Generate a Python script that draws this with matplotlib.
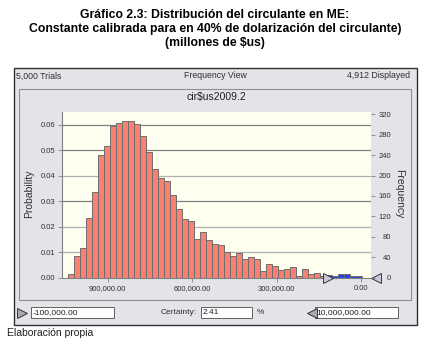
import numpy as np
import matplotlib
matplotlib.use('Agg')
import matplotlib.pyplot as plt
from matplotlib.patches import Rectangle
from matplotlib.lines import Line2D

plt.rcParams['font.family'] = ['Liberation Sans', 'DejaVu Sans']

# data
trials = 5000
displayed = 4912
bin_high = 1040000
bin_low = -4000
counts = [8, 43, 59, 116, 167, 241, 258, 298, 303, 306,
          306, 301, 278, 247, 213, 195, 189, 161, 135, 114,
          112, 75, 90, 73, 66, 64, 51, 43, 49, 36,
          41, 36, 14, 26, 23, 16, 18, 20, 4, 18,
          7, 10, 4, 6, 4, 8, 8, 4, 3]
grab_low = 117000
grab_high = -52000
x_ticks = [900000, 600000, 300000, 0]
prob_ticks = [0.00, 0.01, 0.02, 0.03, 0.04, 0.05, 0.06]
freq_ticks = [0, 40, 80, 120, 160, 200, 240, 280, 320]
title_lines = ['Gráfico 2.3: Distribución del circulante en ME:',
               'Constante calibrada para en 40% de dolarización del circulante)',
               '(millones de $us)']
chart_name = 'cir$us2009.2'
low_text = '-100,000.00'
certainty_text = '2.41'
high_text = '10,000,000.00'
source = 'Elaboración propia'

W, H = 433, 364
fig = plt.figure(figsize=(W / 100, H / 100), dpi=100)
fig.patch.set_facecolor('white')

def fx(x):
    return x / W

def fy(y):
    return 1 - y / H

def box(x0, y0, x1, y1, fc, ec, lw=0.8, z=-10):
    fig.add_artist(Rectangle((fx(x0), fy(y1)), fx(x1) - fx(x0), fy(y0) - fy(y1),
                             transform=fig.transFigure, facecolor=fc, edgecolor=ec,
                             linewidth=lw, zorder=z))

def tri(x, y, m, size=7):
    fig.add_artist(Line2D([fx(x)], [fy(y)], marker=m, markersize=size, markerfacecolor='#a8a8b0',
                          markeredgecolor='#202020', markeredgewidth=0.6, transform=fig.transFigure))

# titles
for i, t in enumerate(title_lines):
    fig.text(fx(215), fy(15 + 14 * i), t, ha='center', va='center', fontsize=8.8, fontweight='bold')

# window frame
box(13.5, 67.5, 417, 325, '#e4e4e8', '#303030', 1.0)
box(18.5, 88.5, 411, 300, 'none', '#909090', 0.8)
fig.text(fx(16), fy(76), '{:,} Trials'.format(trials), ha='left', va='center', fontsize=6.3, color='#303030')
fig.text(fx(215), fy(76), 'Frequency View', ha='center', va='center', fontsize=6.3, color='#303030')
fig.text(fx(410), fy(76), '{:,} Displayed'.format(displayed), ha='right', va='center', fontsize=6.3, color='#303030')
fig.text(fx(216), fy(97), chart_name, ha='center', va='center', fontsize=7.5, color='#202020')

# histogram
edges = np.linspace(bin_high, bin_low, len(counts) + 1)
centers = (edges[:-1] + edges[1:]) / 2
widths = edges[:-1] - edges[1:]
probs = np.array(counts) / trials
colors = ['#2040ff' if c < grab_low else '#fa8072' for c in centers]

ax = fig.add_axes([fx(62), fy(277.7), fx(371) - fx(62), fy(112) - fy(277.7)])
ax.set_facecolor('#fffff0')
grid_cols = ['#b0b0b0', '#b0b0b0', '#808080', '#b0b0b0', '#808080', '#808080']
for v, c in zip(prob_ticks[1:], grid_cols):
    ax.axhline(v, color=c, linewidth=0.9, zorder=1)
ax.bar(centers, probs, width=widths, color=colors, edgecolor='#6e6e6e', linewidth=0.7, zorder=2)
ax.set_xlim(1062400, -35500)
ax.set_ylim(0, 0.0649)
ax.set_xticks(x_ticks)
ax.set_xticklabels(['{:,.2f}'.format(v) for v in x_ticks])
ax.set_yticks(prob_ticks)
ax.set_yticklabels(['{:.2f}'.format(v) for v in prob_ticks])
ax.tick_params(axis='both', labelsize=5.5, colors='#808080', labelcolor='#303030', length=3, width=0.6, pad=2)
for s in ['top', 'right']:
    ax.spines[s].set_visible(False)
for s in ['left', 'bottom']:
    ax.spines[s].set_color('#808080')
    ax.spines[s].set_linewidth(0.8)

ax2 = ax.twinx()
ax2.set_ylim(0, 0.0649 * trials)
ax2.set_yticks(freq_ticks)
ax2.tick_params(axis='y', labelsize=5.5, colors='#808080', labelcolor='#303030', length=3, width=0.6, pad=11.5)
for lab in ax2.get_yticklabels():
    lab.set_horizontalalignment('right')
for s in ax2.spines.values():
    s.set_visible(False)

# certainty grabbers
ax.plot([grab_low], [0], marker='>', markersize=7.5, markerfacecolor='#c8c8dc', markeredgecolor='#202020',
        markeredgewidth=0.6, clip_on=False, zorder=5)
ax.plot([grab_high], [0], marker='<', markersize=7.5, markerfacecolor='#c8c8dc', markeredgecolor='#202020',
        markeredgewidth=0.6, clip_on=False, zorder=5)

fig.text(fx(29), fy(194), 'Probability', rotation=90, ha='center', va='center', fontsize=7.5, color='#303030')
fig.text(fx(399), fy(194), 'Frequency', rotation=270, ha='center', va='center', fontsize=7.5, color='#303030')

# certainty controls
tri(22, 312.5, '>')
box(31, 306.7, 114.3, 318.3, 'white', '#606060', 0.7, 1)
fig.text(fx(32.5), fy(312.5), low_text, ha='left', va='center', fontsize=6, color='#202020')
fig.text(fx(161), fy(312.5), 'Certainty:', ha='left', va='center', fontsize=6, color='#303030')
box(200.7, 306.7, 251.7, 318.3, 'white', '#606060', 0.7, 1)
fig.text(fx(202.5), fy(312.5), certainty_text, ha='left', va='center', fontsize=6, color='#202020')
fig.text(fx(256.5), fy(312.5), '%', ha='left', va='center', fontsize=6, color='#303030')
tri(311.5, 312.5, '<')
box(315, 306.7, 397.7, 318.3, 'white', '#606060', 0.7, 1)
fig.text(fx(316.5), fy(312.5), high_text, ha='left', va='center', fontsize=6, color='#202020')

fig.text(fx(7), fy(333), source, ha='left', va='center', fontsize=7.5, color='#202020')

fig.savefig('out.png', dpi=100)
